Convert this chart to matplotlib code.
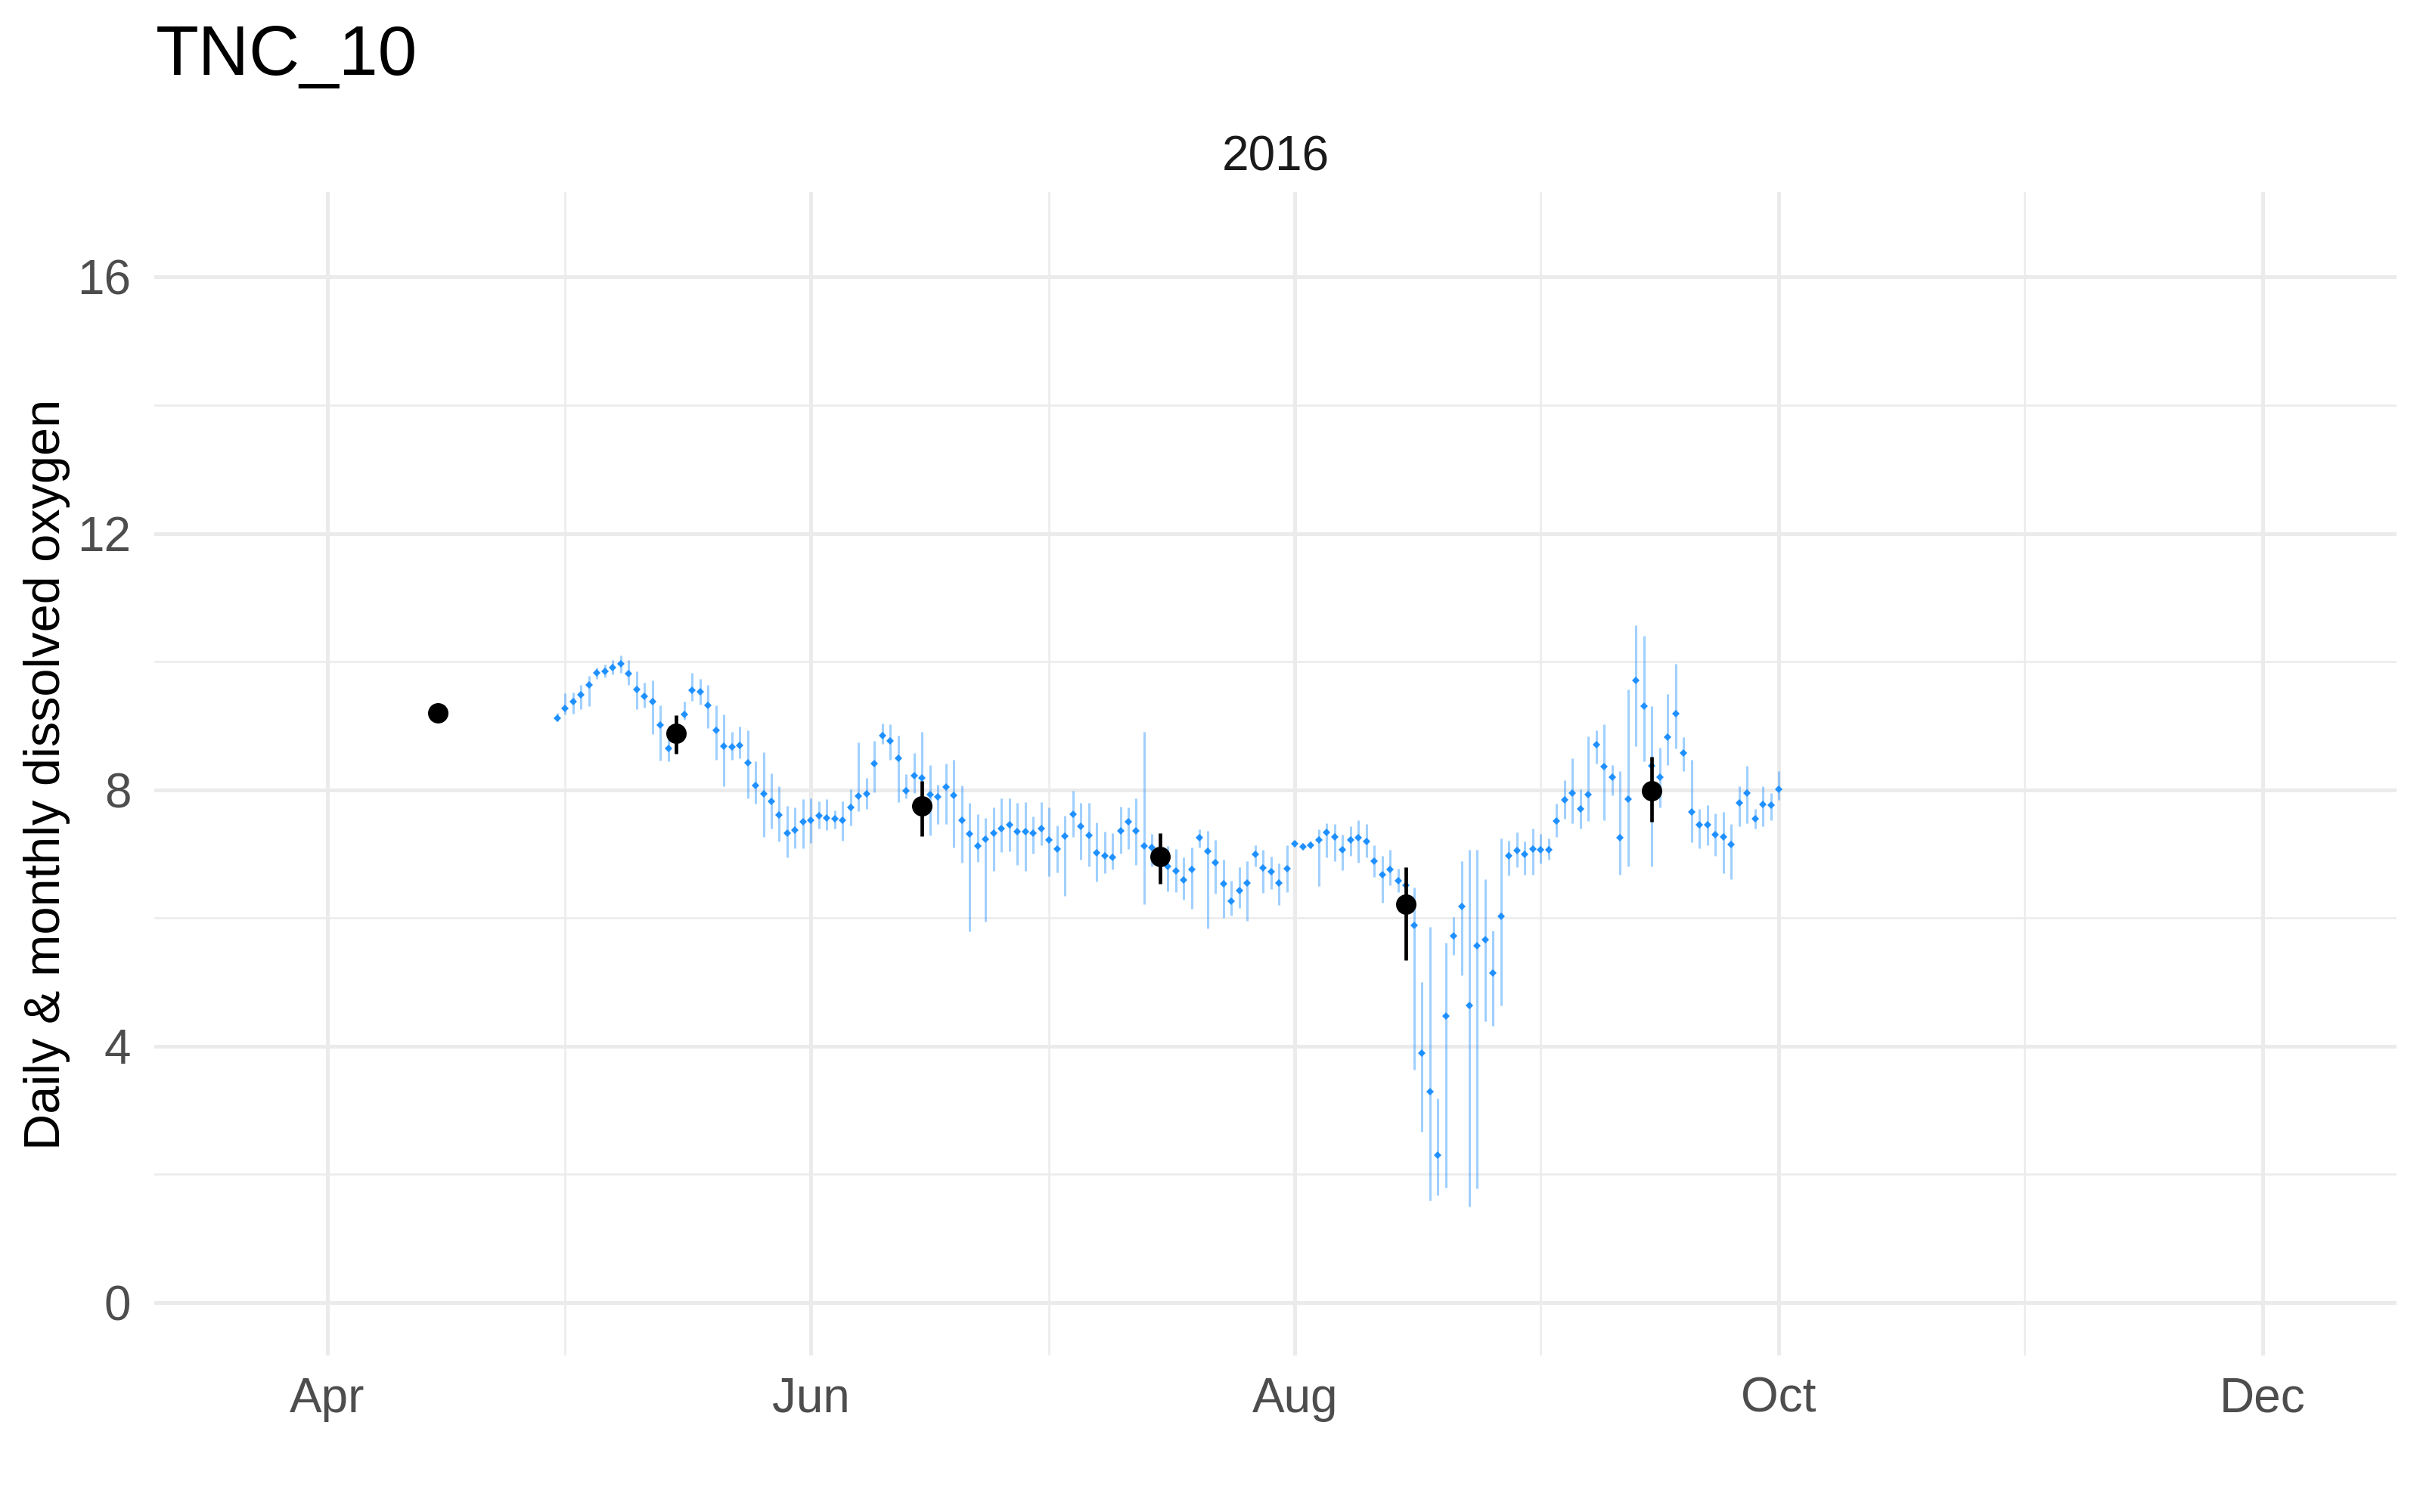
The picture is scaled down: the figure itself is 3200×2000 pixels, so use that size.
import matplotlib
matplotlib.use("Agg")

import numpy as np
import pandas as pd
import matplotlib.pyplot as plt
import matplotlib.dates as mdates
from matplotlib.ticker import FixedLocator

outplot = "out.png"

# daily dissolved oxygen (mean, max, min), one value per day from 2016-04-30
start_day = "2016-04-30"
daily_mean = [
    9.12, 9.27, 9.38, 9.48, 9.63, 9.82, 9.85, 9.91, 9.97, 9.81,
    9.57, 9.46, 9.38, 9.01, 8.65, 8.85, 9.18, 9.55, 9.53, 9.32,
    8.93, 8.68, 8.67, 8.69, 8.42, 8.07, 7.94, 7.82, 7.61, 7.33,
    7.37, 7.50, 7.53, 7.59, 7.56, 7.55, 7.53, 7.73, 7.90, 7.94,
    8.41, 8.85, 8.76, 8.49, 7.99, 8.22, 8.19, 7.93, 7.89, 8.04,
    7.91, 7.53, 7.31, 7.12, 7.23, 7.33, 7.39, 7.45, 7.35, 7.35,
    7.32, 7.40, 7.22, 7.08, 7.28, 7.62, 7.43, 7.29, 7.02, 6.97,
    6.95, 7.36, 7.50, 7.36, 7.12, 7.10, 6.96, 6.81, 6.73, 6.59,
    6.76, 7.25, 7.04, 6.87, 6.53, 6.26, 6.43, 6.55, 6.99, 6.78,
    6.72, 6.55, 6.77, 7.16, 7.11, 7.14, 7.22, 7.34, 7.26, 7.06,
    7.22, 7.25, 7.20, 6.89, 6.68, 6.76, 6.58, 6.51, 5.89, 3.89,
    3.29, 2.30, 4.47, 5.72, 6.18, 4.64, 5.57, 5.66, 5.14, 6.03,
    6.97, 7.05, 6.99, 7.08, 7.06, 7.06, 7.51, 7.84, 7.95, 7.70,
    7.93, 8.70, 8.36, 8.20, 7.25, 7.86, 9.71, 9.31, 8.37, 8.20,
    8.82, 9.19, 8.57, 7.66, 7.45, 7.45, 7.30, 7.26, 7.15, 7.80,
    7.95, 7.55, 7.77, 7.76, 8.01,
]
daily_max = [
    9.20, 9.51, 9.52, 9.64, 9.78, 9.91, 9.96, 10.03, 10.09, 10.02,
    9.85, 9.67, 9.71, 9.32, 8.85, 9.05, 9.38, 9.82, 9.73, 9.63,
    9.32, 9.18, 8.91, 8.99, 8.93, 8.45, 8.59, 8.26, 8.06, 7.75,
    7.73, 7.85, 7.87, 7.82, 7.85, 7.68, 7.82, 8.01, 8.74, 8.19,
    8.76, 9.04, 9.02, 8.84, 8.24, 8.57, 8.90, 8.38, 8.08, 8.41,
    8.47, 8.07, 7.80, 7.62, 7.56, 7.73, 7.87, 7.87, 7.80, 7.81,
    7.58, 7.81, 7.72, 7.44, 7.60, 7.99, 7.80, 7.80, 7.49, 7.35,
    7.33, 7.74, 7.73, 7.87, 8.91, 7.31, 7.20, 7.12, 7.08, 6.95,
    7.10, 7.38, 7.36, 7.22, 6.91, 6.58, 6.79, 6.89, 7.14, 7.07,
    6.96, 6.85, 7.13, 7.21, 7.15, 7.19, 7.38, 7.48, 7.47, 7.30,
    7.43, 7.53, 7.47, 7.13, 6.97, 7.07, 6.77, 6.72, 6.47, 5.00,
    5.86, 3.19, 5.61, 6.01, 6.89, 7.07, 7.07, 6.60, 5.80, 7.24,
    7.21, 7.34, 7.20, 7.40, 7.31, 7.24, 7.78, 8.15, 8.49, 8.01,
    8.83, 8.93, 9.02, 8.39, 8.29, 9.57, 10.57, 10.40, 9.30, 8.66,
    9.49, 9.97, 8.82, 8.47, 7.70, 7.76, 7.63, 7.66, 7.47, 8.05,
    8.37, 7.70, 8.05, 7.95, 8.29,
]
daily_min = [
    9.07, 9.18, 9.19, 9.26, 9.30, 9.73, 9.75, 9.80, 9.82, 9.64,
    9.26, 9.28, 8.87, 8.46, 8.44, 8.65, 9.09, 9.39, 9.33, 8.96,
    8.47, 8.05, 8.47, 8.49, 7.87, 7.78, 7.27, 7.40, 7.20, 6.95,
    7.09, 7.09, 7.17, 7.40, 7.37, 7.40, 7.21, 7.44, 7.67, 7.70,
    7.96, 8.72, 8.47, 7.81, 7.87, 7.95, 7.51, 7.29, 7.46, 7.47,
    7.10, 6.87, 5.79, 6.88, 5.95, 6.74, 7.03, 7.04, 6.83, 6.73,
    7.01, 7.14, 6.65, 6.71, 6.34, 7.26, 6.91, 6.81, 6.57, 6.70,
    6.76, 7.00, 7.08, 6.83, 6.21, 6.80, 6.75, 6.42, 6.41, 6.29,
    6.15, 7.10, 5.84, 6.38, 6.00, 6.04, 6.16, 5.96, 6.80, 6.39,
    6.45, 6.20, 6.41, 7.11, 7.07, 7.09, 6.50, 6.95, 6.89, 6.75,
    6.97, 6.87, 6.95, 6.64, 6.24, 6.51, 6.41, 6.30, 3.63, 2.67,
    1.59, 1.67, 1.79, 5.43, 5.11, 1.50, 1.78, 4.39, 4.32, 4.63,
    6.66, 6.79, 6.68, 6.68, 6.85, 6.91, 7.26, 7.55, 7.48, 7.40,
    7.51, 8.41, 7.53, 7.91, 6.68, 6.80, 8.68, 8.44, 6.80, 7.73,
    8.38, 8.64, 8.29, 7.18, 7.09, 7.14, 6.97, 6.70, 6.61, 7.43,
    7.48, 7.39, 7.43, 7.53, 7.84,
]

# monthly means (plotted on the 15th) with their ranges
month_days = ["2016-04-15", "2016-05-15", "2016-06-15", "2016-07-15", "2016-08-15", "2016-09-15"]
month_mean = [9.20, 8.88, 7.75, 6.96, 6.21, 7.99]
month_hi = [9.20, 9.16, 8.14, 7.33, 6.79, 8.51]
month_lo = [9.20, 8.56, 7.28, 6.53, 5.34, 7.50]

major_months = ["2016-04-01", "2016-06-01", "2016-08-01", "2016-10-01", "2016-12-01"]
major_labels = ["Apr", "Jun", "Aug", "Oct", "Dec"]
minor_months = ["2016-05-01", "2016-07-01", "2016-09-01", "2016-11-01"]

site = "TNC_10"
panel = "2016"
ylab = "Daily & monthly dissolved oxygen"

plt.rcParams['font.family'] = ['Liberation Sans', 'DejaVu Sans']


def plotdo():
    fig = plt.figure(figsize=(16, 10), dpi=200)
    ax = fig.add_axes([0.06375, 0.1035, 0.9266, 0.7695])

    days = mdates.date2num(pd.date_range(start_day, periods=len(daily_mean), freq="D"))
    mdays = mdates.date2num(pd.to_datetime(month_days))

    ax.vlines(days, daily_min, daily_max, color="#1E90FF", alpha=0.42, lw=1.1, zorder=3)
    ax.plot(days, daily_mean, "D", color="#1E90FF", ms=2.7, mew=0, zorder=4)
    ax.vlines(mdays, month_lo, month_hi, color="black", lw=1.7, zorder=5)
    ax.plot(mdays, month_mean, "o", color="black", ms=9.7, mew=0, zorder=6)

    apr1 = mdates.date2num(pd.Timestamp("2016-04-01"))
    dec1 = mdates.date2num(pd.Timestamp("2016-12-01"))
    ax.set_xlim(apr1 - 21.8, dec1 + 16.9)
    ax.set_ylim(-0.825, 17.325)

    ax.xaxis.set_major_locator(FixedLocator(mdates.date2num(pd.to_datetime(major_months))))
    ax.xaxis.set_minor_locator(FixedLocator(mdates.date2num(pd.to_datetime(minor_months))))
    ax.set_xticklabels(major_labels)
    ax.set_yticks([0, 4, 8, 12, 16])
    ax.set_yticks([2, 6, 10, 14], minor=True)

    ax.grid(which="major", color="#EBEBEB", lw=1.8, zorder=0)
    ax.grid(which="minor", color="#EBEBEB", lw=0.9, zorder=0)
    ax.set_axisbelow(True)
    for s in ax.spines.values():
        s.set_visible(False)
    ax.tick_params(which="both", length=0)
    ax.tick_params(axis="x", labelsize=23, labelcolor="#4D4D4D", pad=10)
    ax.tick_params(axis="y", labelsize=23, labelcolor="#4D4D4D", pad=11)

    fig.text(0.0644, 0.9505, site, fontsize=33.5, ha="left", va="baseline")
    # facet strip label sits over the middle of the panel
    fig.text(0.527, 0.887, panel, fontsize=23, color="#1A1A1A", ha="center", va="baseline")
    fig.text(0.0194, 0.488, ylab, rotation=90, fontsize=24, ha="center", va="center")

    fig.savefig(outplot, dpi=200)


plotdo()
